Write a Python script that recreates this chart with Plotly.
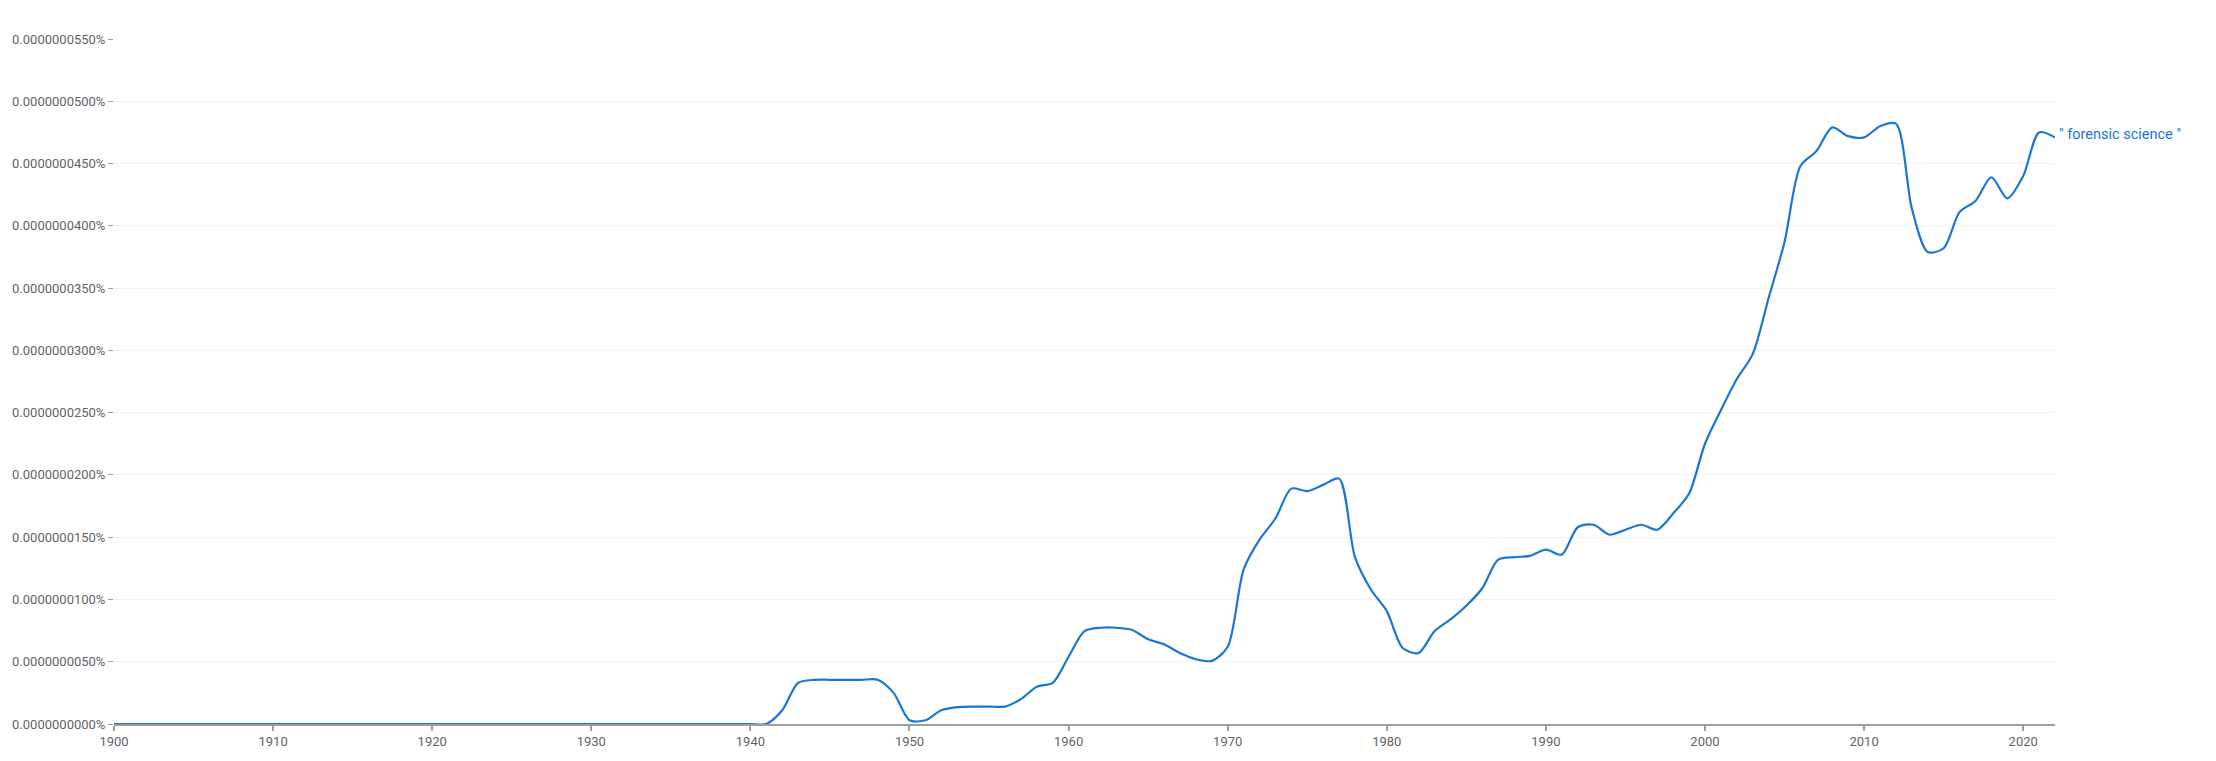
import plotly.graph_objects as go

# Years 1900..2022
years = list(range(1900, 2023))

# Frequency of "forensic science", in units of 1e-9 percent
freq_e9 = [
    # 1900-1909
    0, 0, 0, 0, 0, 0, 0, 0, 0, 0,
    # 1910-1919
    0, 0, 0, 0, 0, 0, 0, 0, 0, 0,
    # 1920-1929
    0, 0, 0, 0, 0, 0, 0, 0, 0, 0,
    # 1930-1939
    0, 0, 0, 0, 0, 0, 0, 0, 0, 0,
    # 1940-1949
    0, 0, 1.1, 3.3, 3.55, 3.55, 3.55, 3.55, 3.55, 2.5,
    # 1950-1959
    0.3, 0.3, 1.1, 1.35, 1.4, 1.4, 1.4, 2.0, 3.0, 3.3,
    # 1960-1969
    5.4, 7.45, 7.73, 7.73, 7.55, 6.8, 6.4, 5.7, 5.2, 5.07,
    # 1970-1979
    6.2, 12.4, 14.8, 16.5, 18.9, 18.7, 19.2, 19.7, 13.4, 10.8,
    # 1980-1989
    9.06, 6.1, 5.7, 7.45, 8.4, 9.5, 10.9, 13.2, 13.4, 13.5,
    # 1990-1999
    14.0, 13.6, 15.8, 16.0, 15.2, 15.6, 16.0, 15.6, 16.9, 18.5,
    # 2000-2009
    22.5, 25.2, 27.7, 29.7, 34.2, 38.7, 44.8, 46.0, 47.9, 47.2,
    # 2010-2019
    47.1, 48.0, 48.2, 41.4, 37.9, 38.2, 41.1, 42.0, 43.9, 42.2,
    # 2020-2022
    44.0, 47.5, 47.1,
]

series_name = "\" forensic science \""
tick_years = list(range(1900, 2030, 10))
tick_year_labels = ["1900", "1910", "1920", "1930", "1940", "1950", "1960",
                    "1970", "1980", "1990", "2000", "2010", "2020"]
y_ticks_e9 = [0, 5, 10, 15, 20, 25, 30, 35, 40, 45, 50, 55]
y_tick_labels = [
    "0.0000000000%", "0.0000000050%", "0.0000000100%", "0.0000000150%",
    "0.0000000200%", "0.0000000250%", "0.0000000300%", "0.0000000350%",
    "0.0000000400%", "0.0000000450%", "0.0000000500%", "0.0000000550%",
]

UNIT = 1e-9  # percent
freq_pct = [v * UNIT for v in freq_e9]
y_ticks_pct = [v * UNIT for v in y_ticks_e9]

LINE_COLOR = "#1976d2"
TEXT_GRAY = "#5f6368"

fig = go.Figure()
fig.add_trace(go.Scatter(
    x=years, y=freq_pct, mode="lines",
    line=dict(color=LINE_COLOR, width=2.2, shape="spline", smoothing=0.8),
    name=series_name, showlegend=False, hoverinfo="x+y",
))

fig.add_annotation(
    x=years[-1], y=freq_pct[-1], xref="x", yref="y",
    text=series_name, showarrow=False, xanchor="left", yanchor="middle",
    xshift=2, yshift=3, font=dict(family="Roboto", size=14.5, color=LINE_COLOR),
)

fig.update_layout(
    width=2216, height=761,
    margin=dict(l=111, r=161, t=39, b=33),
    paper_bgcolor="white", plot_bgcolor="white",
    font=dict(family="Roboto", size=13, color=TEXT_GRAY),
    xaxis=dict(
        range=[1900, 2022], tickmode="array", tickvals=tick_years,
        ticktext=tick_year_labels,
        showgrid=False, zeroline=False,
        showline=True, linecolor="#9e9e9e", linewidth=1.5,
        ticks="outside", ticklen=5, tickcolor="#9e9e9e", tickwidth=1.5,
        tickfont=dict(family="Roboto", size=13, color=TEXT_GRAY),
        fixedrange=True,
    ),
    yaxis=dict(
        range=[0, 55 * UNIT], tickmode="array", tickvals=y_ticks_pct,
        ticktext=y_tick_labels,
        showgrid=True, gridcolor="#f2f2f2", gridwidth=1,
        zeroline=False, showline=False,
        ticks="outside", ticklen=5, tickcolor="#9e9e9e", tickwidth=1,
        tickfont=dict(family="Roboto", size=13, color=TEXT_GRAY),
        fixedrange=True,
    ),
)

fig.write_html(
    "out.html",
    config={"displayModeBar": False},
    post_script="document.body.style.margin='0';document.body.style.overflow='hidden';",
)
